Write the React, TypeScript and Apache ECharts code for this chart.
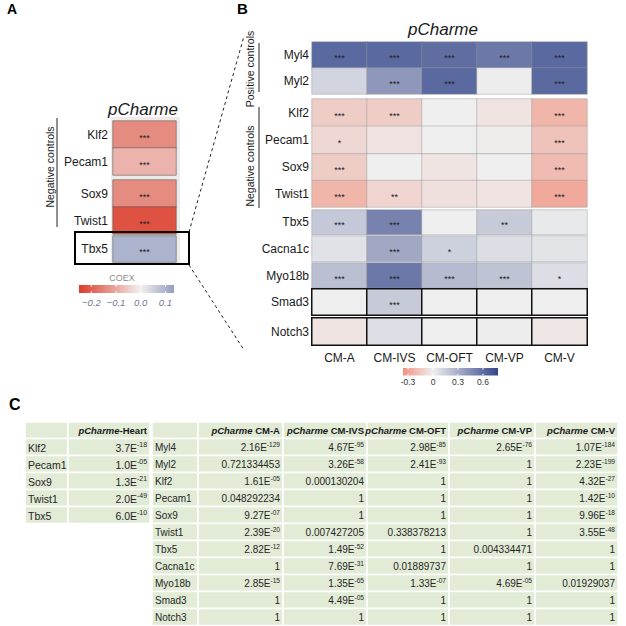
import React, { useEffect, useRef } from 'react';
import * as echarts from 'echarts';

const FONT = "'Liberation Sans', Arial, Helvetica, sans-serif";

// ---------- Panel A data ----------
const heartCol = ['pCharme-Heart'];
const genesA = ['Klf2', 'Pecam1', 'Sox9', 'Twist1', 'Tbx5'];
const coexA = [-0.14, -0.085, -0.14, -0.22, 0.1];
const starsA = ['***', '***', '***', '***', '***'];
const ticksA = [-0.2, -0.1, 0.0, 0.1];
const tickLabelsA = ['\u22120.2', '\u22120.1', '0.0', '0.1'];

// ---------- Panel B data ----------
const clusters = ['CM-A', 'CM-IVS', 'CM-OFT', 'CM-VP', 'CM-V'];
const genesB = ['Myl4', 'Myl2', 'Klf2', 'Pecam1', 'Sox9', 'Twist1', 'Tbx5', 'Cacna1c', 'Myo18b', 'Smad3', 'Notch3'];
const coexMyl4 = [0.62, 0.62, 0.6, 0.55, 0.62];
const coexMyl2 = [0.12, 0.4, 0.62, 0.01, 0.62];
const coexKlf2 = [-0.13, -0.13, 0.0, -0.04, -0.22];
const coexPecam1 = [-0.09, -0.05, 0.0, -0.01, -0.17];
const coexSox9 = [-0.13, 0.0, -0.04, 0.0, -0.2];
const coexTwist1 = [-0.22, -0.1, -0.06, -0.04, -0.27];
const coexTbx5 = [0.18, 0.5, 0.0, 0.17, 0.03];
const coexCacna1c = [0.06, 0.33, 0.14, 0.08, 0.05];
const coexMyo18b = [0.22, 0.55, 0.24, 0.2, 0.08];
const coexSmad3 = [0.0, 0.17, 0.0, 0.0, 0.0];
const coexNotch3 = [-0.04, 0.07, 0.0, 0.01, -0.03];
const coexB = [coexMyl4, coexMyl2, coexKlf2, coexPecam1, coexSox9, coexTwist1, coexTbx5, coexCacna1c, coexMyo18b, coexSmad3, coexNotch3];

const starsMyl4 = ['***', '***', '***', '***', '***'];
const starsMyl2 = ['', '***', '***', '', '***'];
const starsKlf2 = ['***', '***', '', '', '***'];
const starsPecam1 = ['*', '', '', '', '***'];
const starsSox9 = ['***', '', '', '', '***'];
const starsTwist1 = ['***', '**', '', '', '***'];
const starsTbx5 = ['***', '***', '', '**', ''];
const starsCacna1c = ['', '***', '*', '', ''];
const starsMyo18b = ['***', '***', '***', '***', '*'];
const starsSmad3 = ['', '***', '', '', ''];
const starsNotch3 = ['', '', '', '', ''];
const starsB = [starsMyl4, starsMyl2, starsKlf2, starsPecam1, starsSox9, starsTwist1, starsTbx5, starsCacna1c, starsMyo18b, starsSmad3, starsNotch3];
const ticksB = [-0.3, 0, 0.3, 0.6];
const tickLabelsB = ['-0.3', '0', '0.3', '0.6'];

// ---------- Panel C data ----------
const tableHeartGenes = ['Klf2', 'Pecam1', 'Sox9', 'Twist1', 'Tbx5'];
const tableHeartP = ['3.7E-18', '1.0E-05', '1.3E-21', '2.0E-49', '6.0E-10'];
const tableGenes = ['Myl4', 'Myl2', 'Klf2', 'Pecam1', 'Sox9', 'Twist1', 'Tbx5', 'Cacna1c', 'Myo18b', 'Smad3', 'Notch3'];
const pCMA = ['2.16E-129', '0.721334453', '1.61E-05', '0.048292234', '9.27E-07', '2.39E-20', '2.82E-12', '1', '2.85E-15', '1', '1'];
const pCMIVS = ['4.67E-95', '3.26E-58', '0.000130204', '1', '1', '0.007427205', '1.49E-52', '7.69E-31', '1.35E-65', '4.49E-05', '1'];
const pCMOFT = ['2.98E-85', '2.41E-93', '1', '1', '1', '0.338378213', '1', '0.01889737', '1.33E-07', '1', '1'];
const pCMVP = ['2.65E-76', '1', '1', '1', '1', '1', '0.004334471', '1', '4.69E-05', '1', '1'];
const pCMV = ['1.07E-184', '2.23E-199', '4.32E-27', '1.42E-10', '9.96E-18', '3.55E-48', '1', '1', '0.01929037', '1', '1'];
const pColumns = [pCMA, pCMIVS, pCMOFT, pCMVP, pCMV];

// ---------- helpers ----------
function hex(h: string) {
  const n = parseInt(h.slice(1), 16);
  return [(n >> 16) & 255, (n >> 8) & 255, n & 255];
}
function mix(a: string, b: string, t: number) {
  const A = hex(a), B = hex(b);
  const c = A.map((v, i) => Math.round(v + (B[i] - v) * t));
  return `rgb(${c[0]},${c[1]},${c[2]})`;
}
function diverging(lo: string, mid: string, hi: string, min: number, max: number, n: number) {
  const out: string[] = [];
  for (let k = 0; k < n; k++) {
    const v = min + ((max - min) * k) / (n - 1);
    out.push(v < 0 ? mix(mid, lo, v / min) : mix(mid, hi, v / max));
  }
  return out;
}

const A_MIN = -0.25, A_MAX = 0.135;
const B_MIN = -0.36, B_MAX = 0.78;
const palA = diverging('#dc3b28', '#f2f0f0', '#949dbf', A_MIN, A_MAX, 61);
const palB = diverging('#f0917f', '#efefef', '#34468a', B_MIN, B_MAX, 61);

function buildOption() {
  const grids: any[] = [];
  const xAxes: any[] = [];
  const yAxes: any[] = [];
  const series: any[] = [];

  function addGroup(
    left: number, width: number, top: number, height: number,
    cols: string[], rowIdx: number[], names: string[],
    vals: (ri: number, ci: number) => number,
    stars: (ri: number, ci: number) => string,
    o: { showX?: boolean; margin: number; border: string; bw: number; offsetY: number }
  ) {
    const i = grids.length;
    grids.push({ left, top, width, height, containLabel: false });
    xAxes.push({
      type: 'category', gridIndex: i, data: cols,
      axisLine: { show: false }, axisTick: { show: false }, splitLine: { show: false },
      axisLabel: o.showX
        ? { show: true, interval: 0, hideOverlap: false, fontSize: 12, color: '#1a1a1a', margin: 7, fontFamily: FONT }
        : { show: false },
    });
    yAxes.push({
      type: 'category', gridIndex: i, data: rowIdx.map((r) => names[r]), inverse: true,
      axisLine: { show: false }, axisTick: { show: false }, splitLine: { show: false },
      axisLabel: { show: true, interval: 0, fontSize: 12, color: '#1a1a1a', margin: o.margin, fontFamily: FONT },
    });
    const data: any[] = [];
    rowIdx.forEach((r, ri) => cols.forEach((_c, ci) => data.push([ci, ri, vals(r, ci)])));
    series.push({
      type: 'heatmap', xAxisIndex: i, yAxisIndex: i, data, silent: true,
      itemStyle: { borderColor: o.border, borderWidth: o.bw },
      emphasis: { disabled: true },
      label: {
        show: true, fontSize: 9, color: '#222', offset: [0, o.offsetY], fontFamily: FONT,
        formatter: (p: any) => stars(rowIdx[p.value[1]], p.value[0]),
      },
    });
  }

  // Panel A groups
  const aGroups = [
    { rows: [0, 1], top: 121, h: 54 },
    { rows: [2, 3], top: 180, h: 54 },
    { rows: [4], top: 236, h: 26 },
  ];
  aGroups.forEach((g) =>
    addGroup(113, 63, g.top, g.h, heartCol, g.rows, genesA,
      (r) => coexA[r], (r) => starsA[r],
      { margin: 5, border: 'rgba(90,90,90,0.55)', bw: 1, offsetY: 3 })
  );
  const nA = series.length;

  // Panel B groups
  const bGroups = [
    { rows: [0, 1], top: 42, h: 52, black: false },
    { rows: [2, 3], top: 99, h: 54.5, black: false },
    { rows: [4, 5], top: 154, h: 53, black: false },
    { rows: [6], top: 210, h: 24.5, black: false },
    { rows: [7], top: 236, h: 25.5, black: false },
    { rows: [8], top: 263, h: 25, black: false },
    { rows: [9], top: 289, h: 26, black: true },
    { rows: [10], top: 318, h: 27, black: true },
  ];
  bGroups.forEach((g, gi) =>
    addGroup(312, 275, g.top, g.h, clusters, g.rows, genesB,
      (r, c) => coexB[r][c], (r, c) => starsB[r][c],
      {
        showX: gi === bGroups.length - 1, margin: 3,
        border: g.black ? '#111' : 'rgba(150,150,150,0.45)', bw: g.black ? 1.5 : 1, offsetY: 3,
      })
  );
  const nTotal = series.length;

  const seriesA = Array.from({ length: nA }, (_, k) => k);
  const seriesB = Array.from({ length: nTotal - nA }, (_, k) => k + nA);

  // ---------- graphics ----------
  const g: any[] = [];
  const txt = (x: number, y: number, text: string, s: any, extra: any = {}) =>
    g.push({ type: 'text', x, y, silent: true, ...extra, style: { text, fontFamily: FONT, fill: '#1a1a1a', ...s } });

  // Panel letters
  txt(7, 2, 'A', { fontSize: 14, fontWeight: 'bold', fill: '#000' });
  txt(237, 1, 'B', { fontSize: 15, fontWeight: 'bold', fill: '#000' });
  txt(9, 396, 'C', { fontSize: 16, fontWeight: 'bold', fill: '#000' });

  // Panel A background
  g.push({ type: 'rect', z: -1, silent: true, shape: { x: 111, y: 117, width: 69, height: 148 }, style: { fill: '#ebebeb' } });
  // Titles
  txt(143, 109, 'pCharme', { fontSize: 17, fontStyle: 'italic', align: 'center', verticalAlign: 'middle' });
  txt(443, 29, 'pCharme', { fontSize: 17, fontStyle: 'italic', align: 'center', verticalAlign: 'middle' });

  // Brackets
  const line = (x1: number, y1: number, x2: number, y2: number, st: any = {}) =>
    g.push({ type: 'line', z: 10, silent: true, shape: { x1, y1, x2, y2 }, style: { stroke: '#222', lineWidth: 1, ...st } });
  line(57, 118, 57, 227);
  txt(0, 0, 'Negative controls', { fontSize: 10.5, align: 'center', verticalAlign: 'middle' }, { x: 50, y: 167, rotation: Math.PI / 2 });
  line(259, 43, 259, 92);
  txt(0, 0, 'Positive controls', { fontSize: 10.5, align: 'center', verticalAlign: 'middle' }, { x: 250, y: 69, rotation: Math.PI / 2 });
  line(259, 107, 259, 208);
  txt(0, 0, 'Negative controls', { fontSize: 10.5, align: 'center', verticalAlign: 'middle' }, { x: 250, y: 166, rotation: Math.PI / 2 });

  // Black box around Tbx5 and dashed zoom lines
  g.push({ type: 'rect', z: 10, silent: true, shape: { x: 75, y: 232, width: 114, height: 32 }, style: { fill: 'none', stroke: '#000', lineWidth: 2 } });
  line(189, 232, 244, 36, { lineDash: [3, 3] });
  line(189, 265, 244, 350, { lineDash: [3, 3] });

  // Colorbars
  function colorbar(x: number, y: number, w: number, h: number, pal: string[], min: number, max: number,
    ticks: number[], labels: string[], ly: number, ls: any) {
    g.push({
      type: 'rect', silent: true, shape: { x, y, width: w, height: h },
      style: {
        fill: {
          type: 'linear', x: 0, y: 0, x2: 1, y2: 0,
          colorStops: pal.map((c, k) => ({ offset: k / (pal.length - 1), color: c })),
        },
      },
    });
    ticks.forEach((t, k) => {
      const tx = x + ((t - min) / (max - min)) * w;
      line(tx, y, tx, y + h * 0.22, { stroke: '#fff', lineWidth: 1 });
      line(tx, y + h * 0.78, tx, y + h, { stroke: '#fff', lineWidth: 1 });
      txt(tx, ly, labels[k], { align: 'center', verticalAlign: 'middle', ...ls });
    });
  }
  txt(122, 278, 'COEX', { fontSize: 9, fill: '#8a8a8a', align: 'center', verticalAlign: 'middle' });
  colorbar(79, 285, 95, 8, palA, A_MIN, A_MAX, ticksA, tickLabelsA, 302, { fontSize: 9.5, fontStyle: 'italic', fill: '#70769a' });
  colorbar(403, 368, 95, 7.5, palB, B_MIN, B_MAX, ticksB, tickLabelsB, 382, { fontSize: 8.5, fill: '#333' });

  // ---------- Tables ----------
  const TFILL = '#e1ebd6';
  const cellRect = (x1: number, y1: number, x2: number, y2: number) =>
    g.push({ type: 'rect', silent: true, shape: { x: x1, y: y1, width: x2 - x1, height: y2 - y1 }, style: { fill: TFILL, stroke: '#fff', lineWidth: 1.5 } });
  const numRich = (fs: number) => ({
    n: { fontSize: fs, fontFamily: FONT, fill: '#262626', lineHeight: fs + 3 },
    sup: { fontSize: fs * 0.66, fontFamily: FONT, fill: '#262626', verticalAlign: 'top', lineHeight: fs * 0.7 },
  });
  const fmtNum = (s: string) => {
    const m = s.match(/^(.*E)(-\d+)$/);
    return m ? `{n|${m[1]}}{sup|${m[2]}}` : `{n|${s}}`;
  };
  const headRich = {
    i: { fontSize: 9.5, fontFamily: FONT, fontStyle: 'italic', fontWeight: 'bold', fill: '#1a1a1a' },
    b: { fontSize: 9.5, fontFamily: FONT, fontWeight: 'bold', fill: '#1a1a1a' },
  };
  const HEAD_TOP = 422, HEAD_H = 16.5, ROW_H = 17;

  function table(xs: number[], genes: string[], cols: string[][], heads: string[], fs: number) {
    const nRows = genes.length;
    for (let c = 0; c < xs.length - 1; c++) {
      cellRect(xs[c], HEAD_TOP, xs[c + 1], HEAD_TOP + HEAD_H);
      for (let r = 0; r < nRows; r++) {
        const y1 = HEAD_TOP + HEAD_H + r * ROW_H;
        cellRect(xs[c], y1, xs[c + 1], y1 + ROW_H);
      }
    }
    heads.forEach((h, k) => {
      txt(xs[k + 2] - 3, HEAD_TOP + HEAD_H / 2 + 0.5, `{i|pCharme}{b|${h}}`, { rich: headRich, align: 'right', verticalAlign: 'middle' });
    });
    genes.forEach((gn, r) => {
      const yc = HEAD_TOP + HEAD_H + r * ROW_H + ROW_H / 2 + 0.5;
      txt(xs[0] + 3, yc, gn, { fontSize: fs, fill: '#262626', align: 'left', verticalAlign: 'middle' });
      cols.forEach((col, k) => {
        txt(xs[k + 2] - 3, yc, fmtNum(col[r]), { rich: numRich(fs), align: 'right', verticalAlign: 'middle' });
      });
    });
  }
  table([25, 68, 150], tableHeartGenes, [tableHeartP], ['-Heart'], 10.5);
  table([152, 198, 283, 367, 449, 535, 618], tableGenes, pColumns, clusters.map((c) => ' ' + c), 10);

  return {
    animation: false,
    backgroundColor: '#fff',
    textStyle: { fontFamily: FONT },
    grid: grids,
    xAxis: xAxes,
    yAxis: yAxes,
    visualMap: [
      { type: 'continuous', show: false, min: A_MIN, max: A_MAX, dimension: 2, seriesIndex: seriesA, inRange: { color: palA } },
      { type: 'continuous', show: false, min: B_MIN, max: B_MAX, dimension: 2, seriesIndex: seriesB, inRange: { color: palB } },
    ],
    series,
    graphic: g,
  };
}

export default function App() {
  const ref = useRef<HTMLDivElement>(null);
  useEffect(() => {
    if (!ref.current) return;
    const chart = echarts.init(ref.current, null, { renderer: 'svg' });
    chart.setOption(buildOption() as any);
    return () => chart.dispose();
  }, []);
  return (
    <div
      ref={ref}
      style={{ position: 'absolute', left: 0, top: 0, width: 626, height: 626, background: '#fff' }}
    />
  );
}
